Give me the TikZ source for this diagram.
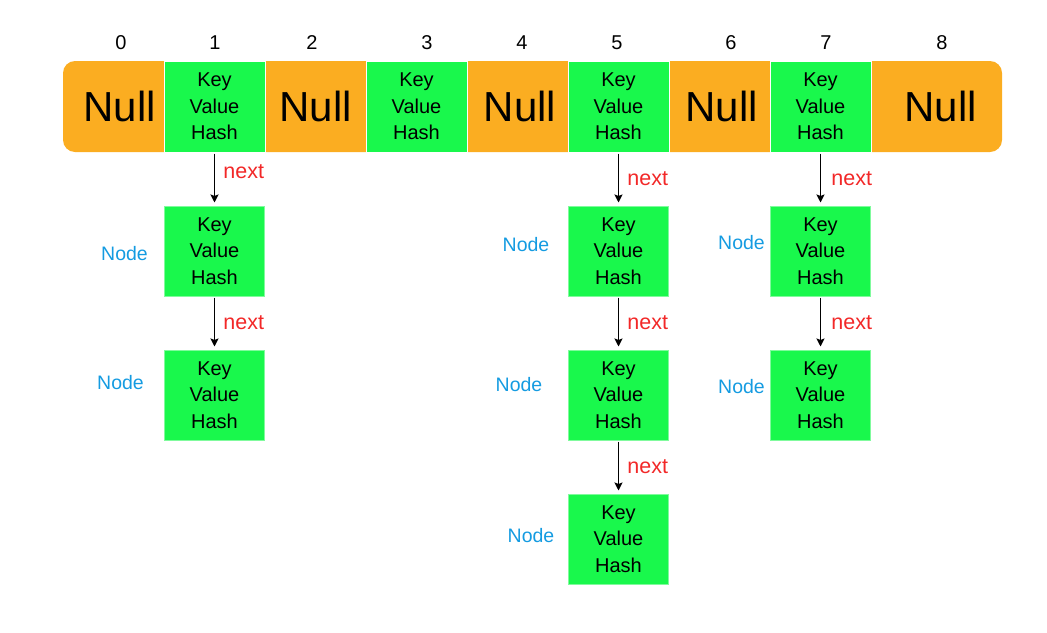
\documentclass[tikz,border=0pt]{standalone}
\usepackage{fontspec}
\setmainfont{Liberation Sans}
\usepackage{xcolor}
\usetikzlibrary{arrows.meta,positioning}
\definecolor{nullorange}{RGB}{251,173,33}
\definecolor{entrygreen}{RGB}{25,248,76}
\definecolor{nodeblue}{RGB}{20,155,225}
\definecolor{nextred}{RGB}{242,40,40}
\tikzstyle{entry}=[fill=entrygreen, draw=white, line width=1pt, minimum width=101pt, minimum height=91pt, inner sep=0pt, align=center, font=\fontsize{20}{26.5}\selectfont]
\tikzstyle{chain}=[entry, draw=entrygreen!55!white, minimum width=100pt, minimum height=90pt]
\tikzstyle{nullcell}=[minimum width=101pt, minimum height=91pt, inner sep=0pt, font=\fontsize{42}{42}\selectfont]
\tikzstyle{index}=[font=\fontsize{20}{20}\selectfont]
\tikzstyle{nextarrow}=[line width=1.8pt, -{Stealth[length=8pt,width=8pt,inset=1.5pt]}, shorten >=3pt, shorten <=1pt]
\tikzstyle{nextlabel}=[anchor=west, inner sep=0pt, xshift=8pt, text=nextred, font=\fontsize{21.5}{21.5}\selectfont]
\tikzstyle{nodelabel}=[text=nodeblue, font=\fontsize{19.5}{19.5}\selectfont]
\newcommand{\kvh}{Key\\Value\\Hash}

\begin{document}
\begin{tikzpicture}[x=1pt, y=-1pt, node distance=53pt]
	\useasboundingbox (0,0) rectangle (1047,632);
	% bucket array
	\fill[nullorange, rounded corners=12pt] (63,61) rectangle (1002,152);
	\node[nullcell] (c0) at (119.5,106.5) {Null};
	\node[entry] (c1) at (214.5,106.5) {\kvh};
	\node[nullcell] (c2) at (315.5,106.5) {Null};
	\node[entry] (c3) at (416.5,106.5) {\kvh};
	\node[nullcell] (c4) at (520,106.5) {Null};
	\node[entry] (c5) at (618.5,106.5) {\kvh};
	\node[nullcell] (c6) at (721.5,106.5) {Null};
	\node[entry] (c7) at (820.5,106.5) {\kvh};
	\node[nullcell, minimum width=131pt] (c8) at (940.5,106.5) {Null};
	\foreach \x/\t in {121/0, 215/1, 312/2, 427/3, 522/4, 617/5, 731/6, 826/7, 942/8}
		\node[index] (i\t) at (\x,43) {\t};
	% chains
	\node[chain, below=of c1] (b1a) {\kvh};
	\node[chain, below=of b1a] (b1b) {\kvh};
	\node[chain, below=of c5] (b5a) {\kvh};
	\node[chain, below=of b5a] (b5b) {\kvh};
	\node[chain, below=of b5b] (b5c) {\kvh};
	\node[chain, below=of c7] (b7a) {\kvh};
	\node[chain, below=of b7a] (b7b) {\kvh};
	\draw[nextarrow] (c1) -- node[nextlabel, pos=.37] {next} (b1a);
	\draw[nextarrow] (b1a) -- node[nextlabel] {next} (b1b);
	\draw[nextarrow] (c5) -- node[nextlabel] {next} (b5a);
	\draw[nextarrow] (b5a) -- node[nextlabel] {next} (b5b);
	\draw[nextarrow] (b5b) -- node[nextlabel] {next} (b5c);
	\draw[nextarrow] (c7) -- node[nextlabel, xshift=2pt] {next} (b7a);
	\draw[nextarrow] (b7a) -- node[nextlabel, xshift=2pt] {next} (b7b);
	\foreach \x/\y [count=\i] in {124.5/254, 120.5/383, 526/245, 519/385, 531/536, 741.5/243, 741.5/387}
		\node[nodelabel] (lbl\i) at (\x,\y) {Node};
\end{tikzpicture}
\end{document}
